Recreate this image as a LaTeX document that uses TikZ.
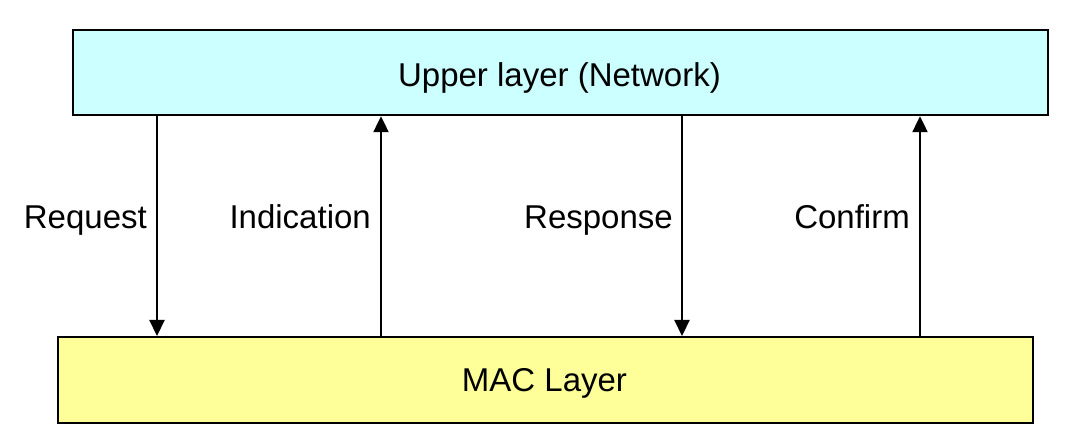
\documentclass[tikz,border=0pt]{standalone}
\usepackage{fontspec}
\setmainfont{Liberation Sans}
\usetikzlibrary{arrows.meta}
\definecolor{upperfill}{HTML}{CCFFFF}
\definecolor{macfill}{HTML}{FFFF99}
\tikzset{
  layerbox/.style={draw=black, line width=2.2bp, inner sep=0pt, anchor=north west},
  prim/.style={line width=2.2bp, -{Triangle[length=16bp,width=15bp]}},
  lbl/.style={anchor=base east, inner sep=0pt, font=\fontsize{33bp}{39bp}\selectfont}
}
\begin{document}
\begin{tikzpicture}[x=1bp,y=-1bp]
\useasboundingbox (0,0) rectangle (1073,440);
\node[layerbox, fill=upperfill, minimum width=975bp, minimum height=85bp] (upper) at (72,29) {};
\node[layerbox, fill=macfill, minimum width=975bp, minimum height=86bp] (mac) at (57,336) {};
\node[font=\fontsize{33bp}{39bp}\selectfont, inner sep=0pt, anchor=base] (ut) at (559.5,87) {Upper layer (Network)};
\node[font=\fontsize{33bp}{39bp}\selectfont, inner sep=0pt, anchor=base] (mt) at (544.5,392) {MAC Layer};
\coordinate (x1) at (157,0);
\coordinate (x2) at (381,0);
\coordinate (x3) at (682,0);
\coordinate (x4) at (920,0);
\draw[prim] (upper.south -| x1) -- (mac.north -| x1);
\draw[prim] (mac.north -| x2) -- (upper.south -| x2);
\draw[prim] (upper.south -| x3) -- (mac.north -| x3);
\draw[prim] (mac.north -| x4) -- (upper.south -| x4);
\node[lbl] (l1) at (147,229) {Request};
\node[lbl] (l2) at (371,229) {Indication};
\node[lbl] (l3) at (673,229) {Response};
\node[lbl] (l4) at (910,229) {Confirm};
\end{tikzpicture}
\end{document}
